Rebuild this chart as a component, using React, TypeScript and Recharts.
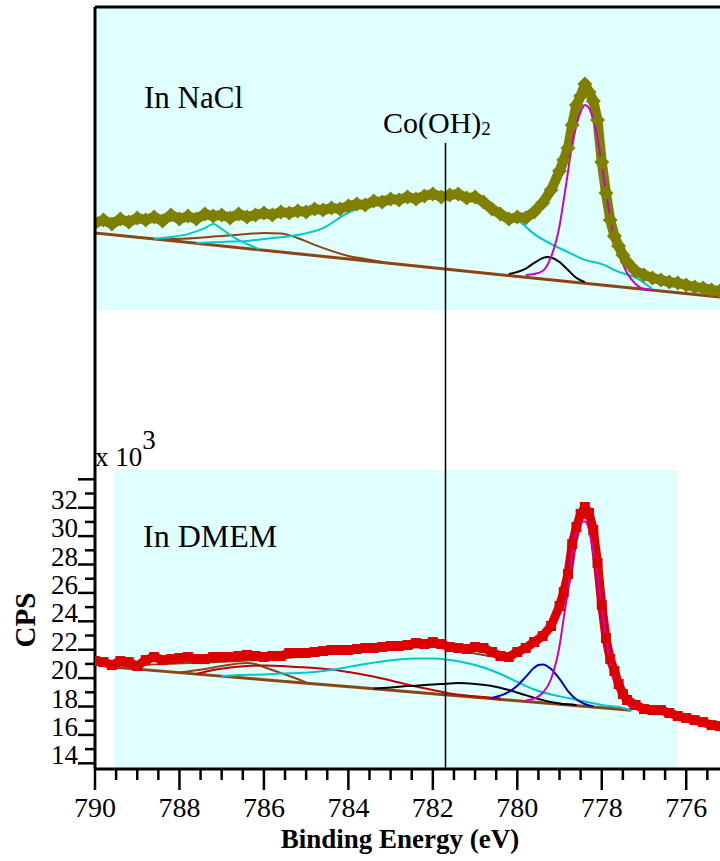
import React from "react";
import { LineChart, Line, XAxis, YAxis, ReferenceArea, ReferenceLine } from "recharts";

const SERIF = '"Liberation Serif", "Times New Roman", Times, serif';

const OLIVE = "#808000";
const RED = "#dc0000";
const BROWN = "#8b4513";
const CYAN = "#00c8c8";
const MAGENTA = "#cc00cc";
const BLUE = "#0000cc";
const DARKRED = "#c00000";
const PANEL = "#e0ffff";

// binding energy (eV) of the measured points, used by both spectra
const energies = [
  790.0, 789.8, 789.6, 789.4, 789.2, 789.0, 788.8, 788.6, 788.4, 788.2, 788.0,
  787.8, 787.6, 787.4, 787.2, 787.0, 786.8, 786.6, 786.4, 786.2, 786.0, 785.8,
  785.6, 785.4, 785.2, 785.0, 784.8, 784.6, 784.4, 784.2, 784.0, 783.8, 783.6,
  783.4, 783.2, 783.0, 782.8, 782.6, 782.4, 782.2, 782.0, 781.8, 781.6, 781.4,
  781.2, 781.0, 780.8, 780.6, 780.4, 780.2, 780.0, 779.8, 779.6, 779.4, 779.2,
  779.0, 778.9, 778.8, 778.7, 778.6, 778.5, 778.4, 778.3, 778.2, 778.1, 778.0,
  777.9, 777.8, 777.7, 777.6, 777.5, 777.4,
  777.2, 777.0, 776.8, 776.6, 776.4, 776.2, 776.0, 775.8, 775.6, 775.4, 775.2,
];

// ---- In NaCl (top panel, no scale shown: relative units) ----
const naclCounts = [
  29.0, 30.0, 28.7, 30.3, 29.3, 30.7, 30.0, 31.0, 29.7, 31.7, 30.3,
  31.3, 30.3, 32.0, 31.3, 31.7, 30.7, 32.0, 31.0, 31.7, 32.3, 31.7,
  32.7, 32.3, 33.0, 32.7, 33.7, 33.3, 34.0, 33.7, 34.7, 35.3, 35.0,
  36.3, 36.0, 37.0, 36.7, 37.7, 37.0, 38.0, 38.7, 37.7, 38.3, 38.7,
  37.3, 37.7, 36.0, 33.7, 32.0, 30.3, 31.0, 30.7, 32.7, 35.7, 40.0,
  46.3, 50.0, 54.0, 61.7, 68.3, 71.3, 75.3, 72.7, 69.7, 63.3, 49.3,
  39.0, 30.0, 24.7, 21.3, 18.3, 16.0,
  13.0, 11.7, 10.7, 10.0, 9.3, 9.0, 8.3, 7.7, 7.3, 6.7, 6.3,
];

const naclBgE = [790, 786, 782, 778, 775.2];
const naclBg = [25.7, 19.9, 14.1, 8.3, 4.3];

const naclSatCyanE = [788.6, 788.2, 787.8, 787.6, 787.4, 787.2, 787.0, 786.8, 786.6, 786.4, 786.1];
const naclSatCyan = [23.7, 24.3, 25.3, 26.2, 27.3, 28.7, 27.0, 25.0, 23.3, 22.0, 20.2];

const naclSatBrownE = [788.4, 787.6, 787.0, 786.4, 786.0, 785.6, 785.2, 784.8, 784.4, 784.0, 783.6, 783.2];
const naclSatBrown = [23.5, 24.0, 24.7, 25.3, 25.7, 25.5, 24.0, 21.7, 19.7, 18.0, 17.0, 16.0];

// broad satellite: its top runs hidden under the measured points
const naclBroadE = [
  787.6, 787.0, 786.4, 785.8, 785.2, 784.6, 784.0, 783.4, 782.8, 782.2, 781.6,
  781.0, 780.4, 780.0, 779.6, 779.2, 778.8, 778.4, 778.0, 777.6, 777.2, 776.8,
];
const naclBroad = [
  22.3, 22.7, 23.0, 24.0, 25.0, 27.3, 32.5, 35.5, 36.5, 37.5, 38.0,
  37.0, 31.5, 30.0, 25.3, 22.0, 19.3, 16.7, 15.3, 12.7, 10.8, 7.0,
];

const naclBlackE = [780.2, 779.8, 779.6, 779.4, 779.3, 779.2, 779.0, 778.8, 778.6, 778.4];
const naclBlack = [12.0, 13.8, 15.7, 17.3, 17.7, 17.5, 16.0, 13.3, 10.7, 9.3];

const naclMainE = [
  779.8, 779.6, 779.4, 779.3, 779.2, 779.0, 778.9, 778.8, 778.7, 778.6, 778.5, 778.4,
  778.3, 778.2, 778.1, 778.0, 777.9, 777.8, 777.7, 777.6, 777.4, 777.2, 777.0, 776.8,
];
const naclMain = [
  11.7, 12.0, 13.0, 14.7, 17.7, 28.0, 36.7, 46.0, 55.7, 61.7, 66.0, 68.3,
  67.3, 63.3, 57.3, 48.3, 39.3, 30.7, 23.3, 19.0, 12.3, 8.7, 7.0, 6.7,
];

const naclEnvE = [
  790, 786, 782, 781, 780.4, 780.0, 779.6, 779.2, 779.0, 778.8, 778.6, 778.5, 778.4,
  778.3, 778.2, 778.1, 778.0, 777.9, 777.8, 777.6, 777.4, 777.0, 776.6, 776.0, 775.2,
];
const naclEnv = [
  29.5, 31.5, 38.0, 37.5, 32.5, 30.5, 32.5, 39.5, 46.0, 54.0, 67.5, 71.0, 74.0,
  72.5, 69.5, 64.0, 51.0, 40.0, 31.0, 21.5, 16.5, 11.7, 10.0, 8.3, 6.3,
];

// ---- In DMEM (bottom panel, CPS x 10^3) ----
const dmemCounts = [
  21.2, 21.13, 20.92, 21.2, 21.13, 20.85, 21.27, 21.49, 21.27, 21.34, 21.42,
  21.49, 21.34, 21.34, 21.49, 21.49, 21.49, 21.56, 21.63, 21.56, 21.49, 21.56,
  21.56, 21.77, 21.77, 21.77, 21.84, 21.91, 21.98, 21.98, 21.98, 22.05, 22.12,
  22.12, 22.19, 22.26, 22.26, 22.33, 22.47, 22.4, 22.54, 22.4, 22.19, 22.12,
  22.05, 22.19, 22.12, 21.84, 21.56, 21.49, 21.84, 22.12, 22.54, 22.96, 23.67,
  25.08, 26.06, 27.33, 29.44, 30.64, 31.56, 32.05, 31.63, 30.43, 28.11, 25.15,
  22.82, 21.34, 20.5, 19.58, 18.88, 18.46,
  18.11, 17.82, 17.75, 17.75, 17.54, 17.33, 17.19, 17.04, 16.9, 16.69, 16.62,
];

const dmemBgE = [789.6, 786, 782, 778, 777.3];
const dmemBg = [20.78, 19.89, 18.9, 17.91, 17.73];

const dmemSatE = [788.0, 787.4, 787.0, 786.6, 786.4, 786.2, 786.0, 785.6, 785.2, 785.0];
const dmemSat = [20.39, 20.64, 20.85, 21.03, 21.06, 20.99, 20.78, 20.36, 19.94, 19.69];

const dmemRedE = [
  787.6, 787.2, 786.8, 786.4, 786.0, 785.6, 785.2, 784.8, 784.4, 784.0,
  783.6, 783.2, 782.8, 782.4, 782.0, 781.6, 781.2, 780.8, 780.4,
];
const dmemRed = [
  20.29, 20.57, 20.75, 20.85, 20.89, 20.85, 20.78, 20.71, 20.61, 20.43,
  20.22, 19.97, 19.69, 19.41, 19.16, 18.92, 18.77, 18.67, 18.56,
];

const dmemCyanE = [
  787.0, 786.6, 786.0, 785.6, 785.2, 784.8, 784.4, 784.0, 783.6, 783.2, 782.8, 782.4, 782.0,
  781.6, 781.2, 780.8, 780.4, 780.0, 779.6, 779.2, 778.8, 778.4, 778.0, 777.6, 777.3,
];
const dmemCyan = [
  20.15, 20.22, 20.25, 20.32, 20.36, 20.43, 20.57, 20.78, 20.99, 21.17, 21.31, 21.38, 21.38,
  21.27, 21.06, 20.75, 20.29, 19.73, 19.2, 18.85, 18.6, 18.35, 18.11, 17.96, 17.75,
];

const dmemBlackE = [783.4, 783.0, 782.6, 782.2, 781.8, 781.4, 781.0, 780.6, 780.2, 779.8, 779.4, 779.0, 778.6];
const dmemBlack = [19.27, 19.34, 19.44, 19.51, 19.58, 19.65, 19.58, 19.44, 19.16, 18.8, 18.45, 18.21, 18.11];

const dmemBlueE = [780.6, 780.2, 780.0, 779.8, 779.6, 779.5, 779.4, 779.2, 779.0, 778.8, 778.6, 778.4, 778.2];
const dmemBlue = [18.6, 19.03, 19.46, 20.09, 20.73, 20.92, 20.96, 20.64, 19.94, 19.09, 18.49, 18.18, 18.0];

const dmemMainE = [
  779.8, 779.6, 779.4, 779.2, 779.0, 778.9, 778.8, 778.7, 778.6, 778.5, 778.4,
  778.3, 778.2, 778.1, 778.0, 777.9, 777.8, 777.7, 777.6, 777.4, 777.2,
];
const dmemMain = [
  18.42, 18.56, 18.95, 19.94, 22.26, 24.23, 26.2, 28.81, 30.29, 30.92, 31.03,
  30.43, 28.88, 27.12, 24.94, 22.89, 20.92, 19.87, 19.02, 18.18, 17.82,
];

const dmemEnvE = [
  789.6, 786, 782, 780.4, 779.6, 779.2, 779.0, 778.8, 778.6, 778.5, 778.4,
  778.3, 778.2, 778.1, 778.0, 777.9, 777.8, 777.6, 777.4, 777.3,
];
const dmemEnv = [
  20.85, 21.3, 22.2, 21.5, 22.4, 23.6, 25.0, 27.2, 30.5, 31.4, 31.8,
  31.4, 30.2, 28.0, 25.1, 22.8, 21.2, 19.4, 18.3, 17.8,
];

const xTicks = Array.from({ length: 30 }, (_, i) => 775.5 + i * 0.5);
const yTicks = [14, 15, 16, 17, 18, 19, 20, 21, 22, 23, 24, 25, 26, 27, 28, 29, 30, 31, 32, 33, 34];

const E_DOMAIN: [number, number] = [775.2, 790];
const DMEM_DOMAIN: [number, number] = [13.6, 67.26];
const NACL_DOMAIN: [number, number] = [0, 101];
const CO_OH2_EV = 781.7;

function pts(es: number[], vs: number[]) {
  return es.map((e, i) => ({ e, v: vs[i] }));
}

function diamond(p: any) {
  const { cx, cy, index } = p;
  if (cx == null || cy == null) return <g key={index} />;
  const r = 7.5;
  return (
    <path key={index} d={`M${cx},${cy - r}L${cx + r},${cy}L${cx},${cy + r}L${cx - r},${cy}Z`} fill={OLIVE} />
  );
}

function square(p: any) {
  const { cx, cy, index } = p;
  if (cx == null || cy == null) return <g key={index} />;
  const h = 5;
  return <rect key={index} x={cx - h} y={cy - h} width={h * 2} height={h * 2} fill={RED} />;
}

function XTick(p: any) {
  const { x, y, payload } = p;
  const v = payload.value;
  const major = Math.abs(v - Math.round(v)) < 1e-6 && Math.round(v) % 2 === 0;
  return (
    <g>
      <line x1={x} x2={x} y1={y} y2={y + (major ? 21 : 11)} stroke="#000" strokeWidth={2.5} />
      {major && (
        <text x={x} y={y + 48} textAnchor="middle" fontFamily={SERIF} fontSize={28} fill="#000">
          {Math.round(v)}
        </text>
      )}
    </g>
  );
}

function YTick(p: any) {
  const { x, y, payload } = p;
  const v = payload.value;
  const major = v % 2 === 0;
  return (
    <g>
      <line x1={x - (major ? 17 : 10)} x2={x} y1={y} y2={y} stroke="#000" strokeWidth={2.5} />
      {major && v <= 32 && (
        <text x={x - 17} y={y + 1} textAnchor="end" fontFamily={SERIF} fontSize={27} fill="#000">
          {v}
        </text>
      )}
    </g>
  );
}

function comp(key: string, es: number[], vs: number[], color: string, width = 2) {
  return (
    <Line
      key={key}
      data={pts(es, vs)}
      dataKey="v"
      type="monotone"
      stroke={color}
      strokeWidth={width}
      dot={false}
      isAnimationActive={false}
    />
  );
}

export default function App() {
  const nacl = pts(energies, naclCounts);
  const dmem = pts(energies, dmemCounts);

  return (
    <div style={{ position: "absolute", left: 0, top: 0, width: 720, height: 861, overflow: "hidden", background: "#fff" }}>
      {/* top panel: In NaCl */}
      <div style={{ position: "absolute", left: 0, top: 0 }}>
        <LineChart width={720} height={320} margin={{ top: 7, right: 0, left: 95, bottom: 10 }}>
          <XAxis type="number" dataKey="e" domain={E_DOMAIN} reversed hide allowDataOverflow />
          <YAxis type="number" domain={NACL_DOMAIN} hide allowDataOverflow />
          <ReferenceArea x1={E_DOMAIN[0]} x2={E_DOMAIN[1]} y1={0} y2={101} fill={PANEL} fillOpacity={1} stroke="none" />
          <ReferenceLine y={101} stroke="#000" strokeWidth={3} />
          {comp("bg", naclBgE, naclBg, BROWN, 3)}
          {comp("satB", naclSatBrownE, naclSatBrown, BROWN)}
          {comp("satC", naclSatCyanE, naclSatCyan, CYAN)}
          {comp("broad", naclBroadE, naclBroad, CYAN)}
          {comp("black", naclBlackE, naclBlack, "#000")}
          {comp("env", naclEnvE, naclEnv, BROWN)}
          <Line data={nacl} dataKey="v" type="linear" stroke={OLIVE} strokeWidth={10} strokeLinejoin="round" dot={diamond} isAnimationActive={false} />
          {comp("main", naclMainE, naclMain, MAGENTA)}
        </LineChart>
      </div>

      {/* bottom panel: In DMEM, with the axes */}
      <div style={{ position: "absolute", left: 0, top: 0 }}>
        <LineChart width={720} height={861} margin={{ top: 7, right: 0, left: 15, bottom: 32 }}>
          <ReferenceArea x1={789.55} x2={776.2} y1={DMEM_DOMAIN[0]} y2={34.65} fill={PANEL} fillOpacity={1} stroke="none" />
          <XAxis
            type="number"
            dataKey="e"
            domain={E_DOMAIN}
            reversed
            allowDataOverflow
            ticks={xTicks}
            interval={0}
            tick={(p: any) => <XTick {...p} />}
            tickLine={false}
            tickSize={0}
            tickMargin={0}
            axisLine={{ stroke: "#000", strokeWidth: 3 }}
            height={60}
          />
          <YAxis
            type="number"
            domain={DMEM_DOMAIN}
            allowDataOverflow
            ticks={yTicks}
            interval={0}
            tick={(p: any) => <YTick {...p} />}
            tickLine={false}
            tickSize={0}
            tickMargin={0}
            axisLine={{ stroke: "#000", strokeWidth: 3 }}
            width={80}
          />
          {comp("bg", dmemBgE, dmemBg, BROWN, 3)}
          {comp("sat", dmemSatE, dmemSat, BROWN)}
          {comp("red", dmemRedE, dmemRed, DARKRED)}
          {comp("cyan", dmemCyanE, dmemCyan, CYAN)}
          {comp("black", dmemBlackE, dmemBlack, "#000")}
          {comp("blue", dmemBlueE, dmemBlue, BLUE)}
          {comp("env", dmemEnvE, dmemEnv, BROWN)}
          <Line data={dmem} dataKey="v" type="linear" stroke={RED} strokeWidth={9} strokeLinejoin="round" dot={square} isAnimationActive={false} />
          {comp("main", dmemMainE, dmemMain, MAGENTA)}
          <ReferenceLine
            segment={[
              { x: CO_OH2_EV, y: DMEM_DOMAIN[0] },
              { x: CO_OH2_EV, y: 57.68 },
            ]}
            stroke="#000"
            strokeWidth={1.5}
          />
        </LineChart>
      </div>

      {/* text labels */}
      <svg width={720} height={861} style={{ position: "absolute", left: 0, top: 0, pointerEvents: "none" }}>
        <text x={144} y={108} fontFamily={SERIF} fontSize={31} fill="#000">In NaCl</text>
        <text x={383} y={133} fontFamily={SERIF} fontSize={30} fill="#000">
          Co(OH)<tspan fontSize={19} dy={2}>2</tspan>
        </text>
        <text x={95} y={466} fontFamily={SERIF} fontSize={27} fill="#000">
          x 10<tspan dy={-17}>3</tspan>
        </text>
        <text x={143} y={547} fontFamily={SERIF} fontSize={32} fill="#000">In DMEM</text>
        <text
          transform="translate(35,620) rotate(-90)"
          textAnchor="middle"
          fontFamily={SERIF}
          fontSize={29}
          fontWeight="bold"
          fill="#000"
        >
          CPS
        </text>
        <text x={400} y={848} textAnchor="middle" fontFamily={SERIF} fontSize={27} fontWeight="bold" fill="#000">
          Binding Energy (eV)
        </text>
      </svg>
    </div>
  );
}
